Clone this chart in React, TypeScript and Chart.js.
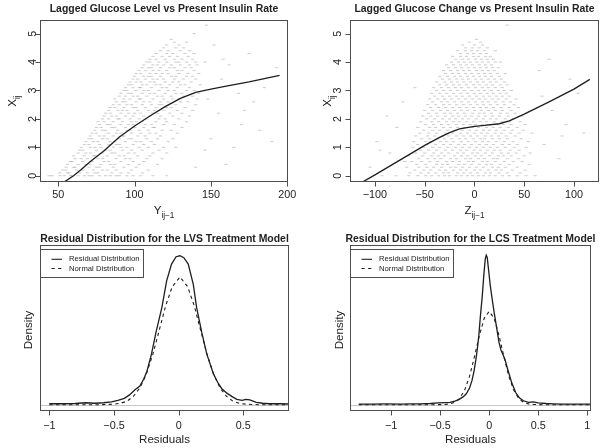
import React, { useEffect, useRef } from "react";
import { Chart, registerables } from "chart.js";

Chart.register(...registerables);

const FONT = '"Liberation Sans", Arial, Helvetica, sans-serif';
const INK = "#222222";
const FRAME = "#4d4d4d";
const CLOUD = "rgba(115,115,115,0.36)";

// ---------- tick values ----------
const TOP_Y_TICKS = [0, 1, 2, 3, 4, 5];
const LVS_X_TICKS = [50, 100, 150, 200];
const LCS_X_TICKS = [-100, -50, 0, 50, 100];
const RES_LVS_TICKS = [-1, -0.5, 0, 0.5];
const RES_LCS_TICKS = [-1, -0.5, 0, 0.5, 1];

// ---------- panel 1: lagged glucose level vs insulin rate (rows: X level, Y values) ----------
const LVS_CLOUD: [number, number[]][] = [
  [0.0, [44, 46, 51, 54, 58, 59, 63, 67, 70, 72, 77, 81, 84, 88, 90, 95, 99, 104, 112, 121]],
  [0.1, [51, 56, 57, 64, 69, 74, 76, 85, 91, 96, 105]],
  [0.2, [53, 55, 62, 66, 73, 79, 82, 88, 98, 109]],
  [0.3, [55, 60, 61, 70, 75, 77, 86, 93, 101]],
  [0.4, [56, 63, 68, 71, 78, 84, 87, 96, 103, 115]],
  [0.5, [58, 59, 66, 72, 80, 83, 91, 99, 106]],
  [0.6, [61, 65, 69, 76, 79, 88, 94, 97, 108, 118]],
  [0.7, [60, 67, 73, 74, 82, 90, 93, 102, 110]],
  [0.8, [63, 68, 71, 79, 85, 87, 96, 100, 112, 121]],
  [0.9, [64, 66, 75, 81, 84, 92, 98, 105, 116]],
  [1.0, [65, 71, 74, 78, 86, 91, 95, 103, 109, 119, 127]],
  [1.1, [67, 70, 77, 83, 88, 90, 99, 106, 113]],
  [1.2, [68, 73, 76, 84, 87, 94, 101, 104, 111, 122]],
  [1.3, [70, 72, 79, 82, 90, 96, 98, 108, 115, 125]],
  [1.4, [71, 77, 80, 86, 92, 93, 102, 107, 117]],
  [1.5, [72, 75, 83, 88, 91, 98, 104, 110, 114, 128]],
  [1.6, [74, 79, 81, 89, 95, 97, 103, 109, 118, 124]],
  [1.7, [75, 78, 85, 87, 94, 100, 106, 112, 113, 131]],
  [1.8, [77, 82, 84, 91, 96, 99, 107, 111, 119, 126]],
  [1.9, [76, 80, 86, 92, 98, 101, 105, 114, 121, 134]],
  [2.0, [79, 83, 89, 90, 97, 103, 108, 116, 120, 129]],
  [2.1, [80, 85, 88, 94, 99, 106, 110, 117, 125, 136]],
  [2.2, [81, 84, 91, 96, 100, 104, 112, 115, 123, 131]],
  [2.3, [83, 89, 92, 95, 102, 109, 113, 119, 128, 138]],
  [2.4, [84, 87, 93, 99, 101, 107, 114, 121, 124, 133]],
  [2.5, [86, 90, 95, 98, 105, 111, 116, 118, 127, 140]],
  [2.6, [88, 92, 94, 101, 106, 110, 117, 122, 130, 135]],
  [2.7, [87, 93, 97, 103, 104, 112, 119, 125, 129, 141]],
  [2.8, [90, 94, 99, 102, 108, 115, 118, 124, 132, 138]],
  [2.9, [91, 96, 98, 105, 110, 113, 120, 127, 131, 142]],
  [3.0, [93, 95, 101, 106, 109, 116, 122, 126, 134, 139]],
  [3.1, [94, 99, 103, 104, 111, 118, 121, 128, 136]],
  [3.2, [96, 98, 105, 108, 114, 117, 123, 130, 133, 143]],
  [3.3, [97, 101, 104, 110, 113, 120, 125, 129, 137]],
  [3.4, [99, 102, 107, 112, 115, 119, 126, 132, 140]],
  [3.5, [100, 106, 109, 111, 117, 124, 127, 134, 138]],
  [3.6, [101, 104, 110, 114, 118, 122, 129, 135, 142]],
  [3.7, [103, 107, 112, 116, 121, 128, 131, 139]],
  [3.8, [105, 109, 111, 117, 123, 126, 133, 137]],
  [3.9, [106, 112, 115, 119, 124, 130, 136, 141]],
  [4.0, [108, 110, 116, 121, 127, 129, 134, 140, 146]],
  [4.1, [110, 114, 120, 126, 131, 138]],
  [4.2, [112, 118, 123, 128, 135]],
  [4.3, [114, 121, 125, 133, 139]],
  [4.4, [117, 122, 130, 136]],
  [4.5, [119, 127, 132]],
  [4.6, [121, 129]],
  [4.7, [126, 134]],
  [4.8, [124]],
  [5.0, [139]],
  [5.3, [147]],
];
const LVS_OUT_X = [146, 150, 155, 158, 162, 168, 170, 178, 182, 185, 190, 193, 152, 175, 160, 140, 148, 165, 157, 172];
const LVS_OUT_Y = [0.9, 1.3, 2.2, 4.1, 3.9, 2.9, 1.8, 2.6, 1.6, 3.1, 1.2, 3.8, 4.6, 4.3, 0.4, 0.3, 2.7, 1.0, 3.4, 2.3];
const LVS_FIT_X = [53, 60, 65, 71, 80, 90, 100, 110, 120, 130, 140, 150, 160, 175, 195];
const LVS_FIT_Y = [-0.25, 0.0, 0.22, 0.5, 0.88, 1.36, 1.75, 2.1, 2.43, 2.72, 2.93, 3.05, 3.15, 3.3, 3.53];

// ---------- panel 2: lagged glucose change vs insulin rate ----------
const LCS_CLOUD: [number, number[]][] = [
  [0.0, [-93, -79, -66, -57, -49, -43, -36, -30, -25, -18, -13, -7, -2, 4, 9, 15, 21, 28, 35, 43, 52, 61]],
  [0.1, [-65, -54, -46, -39, -31, -26, -17, -11, -4, 3, 11, 16, 25, 33, 46]],
  [0.2, [-60, -51, -44, -35, -29, -21, -14, -8, 0, 6, 14, 22, 27, 38, 51]],
  [0.3, [-68, -56, -48, -41, -33, -24, -19, -12, -5, 2, 9, 18, 24, 31, 43]],
  [0.4, [-58, -49, -38, -32, -27, -16, -10, -3, 5, 12, 17, 26, 35, 55]],
  [0.5, [-63, -53, -45, -37, -28, -22, -15, -6, -1, 8, 13, 21, 30, 39, 48]],
  [0.6, [-56, -47, -40, -34, -24, -18, -9, -4, 4, 10, 19, 23, 33, 44]],
  [0.7, [-66, -52, -43, -36, -30, -20, -13, -7, 1, 7, 15, 24, 29, 37, 50]],
  [0.8, [-59, -50, -41, -33, -26, -17, -11, -2, 3, 11, 18, 27, 34, 42, 56]],
  [0.9, [-54, -46, -38, -29, -22, -14, -8, 0, 6, 13, 20, 26, 36, 45]],
  [1.0, [-62, -51, -42, -35, -27, -19, -12, -5, 2, 9, 16, 23, 31, 40, 52]],
  [1.1, [-57, -48, -39, -31, -24, -16, -10, -3, 5, 12, 19, 28, 35, 43]],
  [1.2, [-61, -49, -44, -34, -28, -21, -13, -6, 1, 8, 14, 22, 30, 39, 54]],
  [1.3, [-53, -45, -37, -30, -23, -15, -9, -1, 6, 10, 18, 25, 33, 47]],
  [1.4, [-59, -47, -40, -32, -26, -18, -11, -4, 3, 11, 17, 24, 32, 41]],
  [1.5, [-55, -46, -38, -29, -22, -14, -7, 0, 7, 13, 21, 27, 36, 45, 58]],
  [1.6, [-51, -42, -35, -27, -20, -12, -5, 2, 9, 15, 22, 30, 38, 49]],
  [1.7, [-57, -45, -39, -31, -24, -17, -10, -2, 4, 12, 19, 26, 34, 43]],
  [1.8, [-49, -41, -33, -26, -18, -11, -4, 1, 8, 14, 23, 29, 37, 51]],
  [1.9, [-54, -43, -36, -28, -21, -15, -8, -1, 6, 12, 20, 28, 35, 46]],
  [2.0, [-48, -40, -32, -25, -19, -12, -6, 2, 9, 16, 22, 31, 39]],
  [2.1, [-52, -44, -37, -29, -22, -16, -9, -3, 4, 11, 18, 25, 34, 48]],
  [2.2, [-46, -38, -30, -24, -17, -10, -2, 5, 10, 17, 26, 33, 41]],
  [2.3, [-50, -42, -34, -27, -20, -13, -7, 0, 7, 14, 21, 28, 37]],
  [2.4, [-44, -36, -29, -22, -15, -8, -1, 6, 12, 19, 27, 35, 44]],
  [2.5, [-47, -39, -31, -25, -18, -11, -4, 3, 9, 16, 23, 30, 40]],
  [2.6, [-42, -33, -27, -20, -13, -6, 1, 8, 14, 21, 29, 36]],
  [2.7, [-45, -37, -30, -23, -16, -9, -2, 5, 11, 18, 24, 32, 42]],
  [2.8, [-40, -32, -25, -18, -12, -5, 2, 9, 15, 22, 28, 35]],
  [2.9, [-43, -35, -28, -21, -14, -7, 0, 6, 13, 19, 26, 32]],
  [3.0, [-38, -31, -24, -17, -10, -3, 4, 10, 17, 24, 30, 37]],
  [3.1, [-41, -33, -26, -19, -13, -6, 1, 8, 14, 21, 28]],
  [3.2, [-35, -28, -21, -15, -8, -1, 5, 12, 18, 26, 33]],
  [3.3, [-38, -30, -23, -17, -11, -4, 3, 9, 16, 22, 30]],
  [3.4, [-32, -25, -18, -12, -6, 1, 7, 14, 20, 27]],
  [3.5, [-35, -27, -20, -14, -7, -1, 5, 11, 17, 25]],
  [3.6, [-29, -22, -16, -9, -3, 4, 10, 16, 23, 31]],
  [3.7, [-31, -24, -17, -11, -5, 2, 8, 14, 20]],
  [3.8, [-26, -19, -13, -6, 0, 6, 12, 18, 24]],
  [3.9, [-28, -21, -14, -8, -2, 5, 11, 17]],
  [4.0, [-23, -16, -10, -4, 2, 8, 14, 21, 26]],
  [4.1, [-19, -12, -6, 1, 7, 13, 19]],
  [4.2, [-22, -14, -8, -1, 4, 11, 16]],
  [4.3, [-14, -7, -1, 6, 12]],
  [4.4, [-17, -9, -3, 3, 10, 21]],
  [4.5, [-9, -2, 5, 13]],
  [4.6, [-12, 0, 8]],
  [4.7, [-5, 6]],
  [4.8, [2]],
  [5.3, [33]],
];
const LCS_OUT_X = [-105, -98, -85, -78, -88, -72, 70, 78, 85, 92, 104, 96, 65, -60, 110, 75, -70, 68, 88, -95];
const LCS_OUT_Y = [0.3, 1.2, 0.8, 1.7, 2.1, 2.6, 1.1, 2.3, 0.6, 1.8, 2.9, 3.4, 3.7, 3.1, 1.5, 4.1, 0.5, 2.8, 1.4, 0.9];
const LCS_FIT_X = [-114, -100, -75, -50, -35, -25, -15, 0, 10, 25, 35, 50, 75, 100, 116];
const LCS_FIT_Y = [-0.25, 0.03, 0.55, 1.07, 1.35, 1.52, 1.65, 1.74, 1.77, 1.83, 1.93, 2.17, 2.6, 3.05, 3.39];

// ---------- panel 3: LVS residual densities ----------
const LVS_RES_X = [-1.0, -0.9, -0.8, -0.72, -0.65, -0.58, -0.52, -0.47, -0.42, -0.38, -0.34, -0.3, -0.27, -0.245, -0.21, -0.175, -0.13, -0.093, -0.055, -0.02, 0.01, 0.04, 0.074, 0.113, 0.139, 0.178, 0.217, 0.268, 0.3, 0.332, 0.37, 0.41, 0.45, 0.49, 0.52, 0.55, 0.6, 0.65, 0.7, 0.78, 0.85];
const LVS_RES_D = [0.02, 0.02, 0.025, 0.04, 0.03, 0.04, 0.06, 0.09, 0.13, 0.2, 0.3, 0.38, 0.52, 0.68, 1.03, 1.47, 1.97, 2.51, 2.85, 3.0, 3.02, 2.98, 2.85, 2.44, 1.97, 1.47, 1.03, 0.63, 0.46, 0.33, 0.24, 0.17, 0.11, 0.09, 0.11, 0.1, 0.05, 0.03, 0.02, 0.02, 0.015];
const LVS_NORM_X = [-1.0, -0.6, -0.5, -0.45, -0.4, -0.35, -0.3, -0.25, -0.2, -0.15, -0.1, -0.05, 0.01, 0.07, 0.12, 0.17, 0.22, 0.27, 0.32, 0.37, 0.42, 0.47, 0.52, 0.62, 0.85];
const LVS_NORM_D = [0, 0.001, 0.011, 0.03, 0.07, 0.17, 0.34, 0.62, 1.02, 1.51, 2.01, 2.39, 2.59, 2.39, 2.01, 1.51, 1.02, 0.62, 0.34, 0.17, 0.07, 0.03, 0.011, 0.001, 0];

// ---------- panel 4: LCS residual densities ----------
const LCS_RES_X = [-1.33, -1.2, -1.05, -0.9, -0.8, -0.7, -0.6, -0.52, -0.45, -0.4, -0.35, -0.31, -0.27, -0.235, -0.2, -0.175, -0.155, -0.135, -0.12, -0.105, -0.09, -0.07, -0.055, -0.04, -0.03, -0.02, -0.005, 0.01, 0.025, 0.05, 0.075, 0.1, 0.12, 0.14, 0.16, 0.19, 0.23, 0.27, 0.31, 0.35, 0.4, 0.45, 0.5, 0.58, 0.65, 0.75, 0.85, 1.0, 1.03];
const LCS_RES_D = [0.02, 0.02, 0.025, 0.02, 0.03, 0.025, 0.04, 0.06, 0.07, 0.08, 0.12, 0.17, 0.25, 0.35, 0.55, 0.8, 1.1, 1.5, 1.85, 2.3, 2.9, 3.6, 4.25, 4.8, 4.92, 4.85, 4.4, 3.95, 3.6, 3.05, 2.55, 2.05, 1.8, 1.65, 1.5, 1.15, 0.72, 0.4, 0.22, 0.13, 0.08, 0.09, 0.06, 0.04, 0.03, 0.02, 0.02, 0.02, 0.02];
const LCS_NORM_X = [-1.33, -0.6, -0.5, -0.45, -0.4, -0.35, -0.3, -0.25, -0.2, -0.15, -0.1, -0.05, 0, 0.05, 0.1, 0.15, 0.2, 0.25, 0.3, 0.35, 0.4, 0.45, 0.5, 0.6, 1.03];
const LCS_NORM_D = [0, 0, 0.002, 0.008, 0.027, 0.082, 0.21, 0.48, 0.94, 1.58, 2.28, 2.85, 3.07, 2.85, 2.28, 1.58, 0.94, 0.48, 0.21, 0.082, 0.027, 0.008, 0.002, 0, 0];

const LEGEND_LABELS = ["Residual Distribution", "Normal Distribution"];

// ---------- helpers ----------
const pts = (xs: number[], ys: number[]) => xs.map((x, i) => ({ x, y: ys[i] }));
const rowPts = (rows: [number, number[]][]) =>
  rows.flatMap(([y, xs]) => xs.map((x) => ({ x, y })));
const fmt = (v: number) => String(v).replace("-", "\u2212");

type Panel = {
  key: string;
  left: number;
  top: number;
  area: { l: number; t: number; r: number; b: number };
  xr: [number, number];
  yr: [number, number];
  title: string;
  titleY: number;
  xTicks: number[];
  yTicks?: number[];
  yTickX?: number;
  xTickLabelY: number;
  xTitle: [string, string];
  xTitleY: number;
  yTitle: [string, string];
  yTitleX: number;
  yTitleY: number;
  legend?: boolean;
  baseline?: boolean;
  datasets: any[];
};

function drawSub(ctx: any, main: string, sub: string, cx: number, cy: number, size: number, subSize: number) {
  ctx.font = `${size}px ${FONT}`;
  const wm = ctx.measureText(main).width;
  ctx.font = `${subSize}px ${FONT}`;
  const ws = sub ? ctx.measureText(sub).width : 0;
  const start = cx - (wm + ws) / 2;
  const base = cy + size * 0.358;
  ctx.textAlign = "left";
  ctx.textBaseline = "alphabetic";
  ctx.font = `${size}px ${FONT}`;
  ctx.fillText(main, start, base);
  if (sub) {
    ctx.font = `${subSize}px ${FONT}`;
    ctx.fillText(sub, start + wm, base + size * 0.33);
  }
}

function decor(p: Panel) {
  return {
    id: "decor_" + p.key,
    beforeDatasetsDraw(chart: any) {
      if (!p.baseline) return;
      const { ctx, chartArea: a, scales } = chart;
      const y = Math.round(scales.y.getPixelForValue(0)) + 0.5;
      ctx.save();
      ctx.strokeStyle = "#c6c6c6";
      ctx.lineWidth = 1;
      ctx.beginPath();
      ctx.moveTo(a.left, y);
      ctx.lineTo(a.right, y);
      ctx.stroke();
      ctx.restore();
    },
    afterDraw(chart: any) {
      const { ctx, chartArea: a, scales } = chart;
      ctx.save();
      ctx.strokeStyle = FRAME;
      ctx.lineWidth = 1;
      const L = Math.round(a.left) + 0.5,
        T = Math.round(a.top) + 0.5,
        R = Math.round(a.right) - 0.5,
        B = Math.round(a.bottom) - 0.5;
      ctx.strokeRect(L, T, R - L, B - T);
      ctx.fillStyle = INK;
      ctx.beginPath();
      for (const v of p.xTicks) {
        const x = Math.round(scales.x.getPixelForValue(v)) + 0.5;
        ctx.moveTo(x, B);
        ctx.lineTo(x, B + 5);
      }
      ctx.stroke();
      ctx.font = `10.8px ${FONT}`;
      ctx.textAlign = "center";
      ctx.textBaseline = "middle";
      for (const v of p.xTicks) {
        ctx.fillText(fmt(v), scales.x.getPixelForValue(v), p.xTickLabelY);
      }
      if (p.yTicks) {
        ctx.beginPath();
        for (const v of p.yTicks) {
          const y = Math.round(scales.y.getPixelForValue(v)) + 0.5;
          ctx.moveTo(L, y);
          ctx.lineTo(L - 5, y);
        }
        ctx.stroke();
        for (const v of p.yTicks) {
          ctx.save();
          ctx.translate(p.yTickX!, scales.y.getPixelForValue(v));
          ctx.rotate(-Math.PI / 2);
          ctx.font = `10.8px ${FONT}`;
          ctx.textAlign = "center";
          ctx.textBaseline = "middle";
          ctx.fillText(fmt(v), 0, 0);
          ctx.restore();
        }
      }
      ctx.font = `bold 10.45px ${FONT}`;
      ctx.textAlign = "center";
      ctx.textBaseline = "middle";
      ctx.fillText(p.title, (a.left + a.right) / 2, p.titleY);
      drawSub(ctx, p.xTitle[0], p.xTitle[1], (a.left + a.right) / 2, p.xTitleY, 11.6, 8.2);
      ctx.save();
      ctx.translate(p.yTitleX, p.yTitleY);
      ctx.rotate(-Math.PI / 2);
      drawSub(ctx, p.yTitle[0], p.yTitle[1], 0, 0, 11.6, 8.2);
      ctx.restore();
      if (p.legend) {
        const bx = L, by = 25.5, bw = 103, bh = 28;
        ctx.strokeStyle = FRAME;
        ctx.strokeRect(bx, by, bw, bh);
        ctx.strokeStyle = INK;
        ctx.lineWidth = 1.1;
        const rows = [by + 9.8, by + 19];
        ctx.beginPath();
        ctx.moveTo(bx + 11, rows[0]);
        ctx.lineTo(bx + 21.5, rows[0]);
        ctx.stroke();
        ctx.setLineDash([3.3, 3.3]);
        ctx.beginPath();
        ctx.moveTo(bx + 11, rows[1]);
        ctx.lineTo(bx + 21.5, rows[1]);
        ctx.stroke();
        ctx.setLineDash([]);
        ctx.font = `7.7px ${FONT}`;
        ctx.textAlign = "left";
        ctx.textBaseline = "middle";
        ctx.fillStyle = INK;
        ctx.fillText(LEGEND_LABELS[0], bx + 28.5, rows[0]);
        ctx.fillText(LEGEND_LABELS[1], bx + 28.5, rows[1]);
      }
      ctx.restore();
    },
  };
}

const cloudSet = (data: any[]) => ({
  data,
  showLine: false,
  pointStyle: "line",
  pointRadius: 1.6,
  pointBorderWidth: 1,
  pointBorderColor: CLOUD,
  pointBackgroundColor: CLOUD,
  borderColor: CLOUD,
  order: 2,
});
const curveSet = (data: any[], dash?: number[]) => ({
  data,
  showLine: true,
  pointRadius: 0,
  borderColor: "#1e1e1e",
  borderWidth: dash ? 1.1 : 1.3,
  borderDash: dash || [],
  tension: 0,
  order: dash ? 1 : 0,
});

const PANELS: Panel[] = [
  {
    key: "p1", left: 0, top: 0,
    area: { l: 40, t: 20, r: 288, b: 182 },
    xr: [38, 200.5], yr: [-0.22, 5.48],
    title: "Lagged Glucose Level vs Present Insulin Rate", titleY: 9,
    xTicks: LVS_X_TICKS, yTicks: TOP_Y_TICKS, yTickX: 33.5,
    xTickLabelY: 195, xTitle: ["Y", "ij\u22121"], xTitleY: 210,
    yTitle: ["X", "ij"], yTitleX: 12, yTitleY: 101,
    datasets: [
      curveSet(pts(LVS_FIT_X, LVS_FIT_Y)),
      cloudSet(rowPts(LVS_CLOUD)),
      cloudSet(pts(LVS_OUT_X, LVS_OUT_Y)),
    ],
  },
  {
    key: "p2", left: 302, top: 0,
    area: { l: 48, t: 20, r: 298, b: 182 },
    xr: [-125.1, 125.2], yr: [-0.22, 5.48],
    title: "Lagged Glucose Change vs Present Insulin Rate", titleY: 9,
    xTicks: LCS_X_TICKS, yTicks: TOP_Y_TICKS, yTickX: 36,
    xTickLabelY: 195, xTitle: ["Z", "ij\u22121"], xTitleY: 210,
    yTitle: ["X", "ij"], yTitleX: 25, yTitleY: 101,
    datasets: [
      curveSet(pts(LCS_FIT_X, LCS_FIT_Y)),
      cloudSet(rowPts(LCS_CLOUD)),
      cloudSet(pts(LCS_OUT_X, LCS_OUT_Y)),
    ],
  },
  {
    key: "p3", left: 0, top: 224,
    area: { l: 40, t: 21, r: 289, b: 187 },
    xr: [-1.072, 0.853], yr: [-0.127, 3.238],
    title: "Residual Distribution for the LVS Treatment Model", titleY: 15,
    xTicks: RES_LVS_TICKS,
    xTickLabelY: 201.7, xTitle: ["Residuals", ""], xTitleY: 215,
    yTitle: ["Density", ""], yTitleX: 27.7, yTitleY: 106,
    legend: true, baseline: true,
    datasets: [
      curveSet(pts(LVS_RES_X, LVS_RES_D)),
      curveSet(pts(LVS_NORM_X, LVS_NORM_D), [3.3, 3.3]),
    ],
  },
  {
    key: "p4", left: 302, top: 224,
    area: { l: 48, t: 21, r: 289, b: 187 },
    xr: [-1.419, 1.038], yr: [-0.207, 5.256],
    title: "Residual Distribution for the LCS Treatment Model", titleY: 15.5,
    xTicks: RES_LCS_TICKS,
    xTickLabelY: 201.7, xTitle: ["Residuals", ""], xTitleY: 215,
    yTitle: ["Density", ""], yTitleX: 36.7, yTitleY: 106,
    legend: true, baseline: true,
    datasets: [
      curveSet(pts(LCS_RES_X, LCS_RES_D)),
      curveSet(pts(LCS_NORM_X, LCS_NORM_D), [3.3, 3.3]),
    ],
  },
];

function PanelChart({ p }: { p: Panel }) {
  const ref = useRef<HTMLCanvasElement>(null);
  useEffect(() => {
    const chart = new Chart(ref.current as HTMLCanvasElement, {
      type: "scatter",
      data: { datasets: p.datasets },
      options: {
        responsive: false,
        maintainAspectRatio: false,
        devicePixelRatio: 1,
        animation: false,
        events: [],
        layout: {
          padding: { left: p.area.l, top: p.area.t, right: 302 - p.area.r, bottom: 224 - p.area.b },
        },
        scales: {
          x: { type: "linear", display: false, min: p.xr[0], max: p.xr[1] },
          y: { type: "linear", display: false, min: p.yr[0], max: p.yr[1] },
        },
        plugins: { legend: { display: false }, tooltip: { enabled: false }, title: { display: false } },
      },
      plugins: [decor(p)],
    } as any);
    return () => chart.destroy();
  }, [p]);
  return (
    <canvas
      ref={ref}
      width={302}
      height={224}
      style={{ position: "absolute", left: p.left, top: p.top, width: 302, height: 224, display: "block" }}
    />
  );
}

export default function App() {
  return (
    <div style={{ position: "absolute", left: 0, top: 0, width: 604, height: 448, background: "#fff", overflow: "hidden" }}>
      {PANELS.map((p) => (
        <PanelChart key={p.key} p={p} />
      ))}
    </div>
  );
}
